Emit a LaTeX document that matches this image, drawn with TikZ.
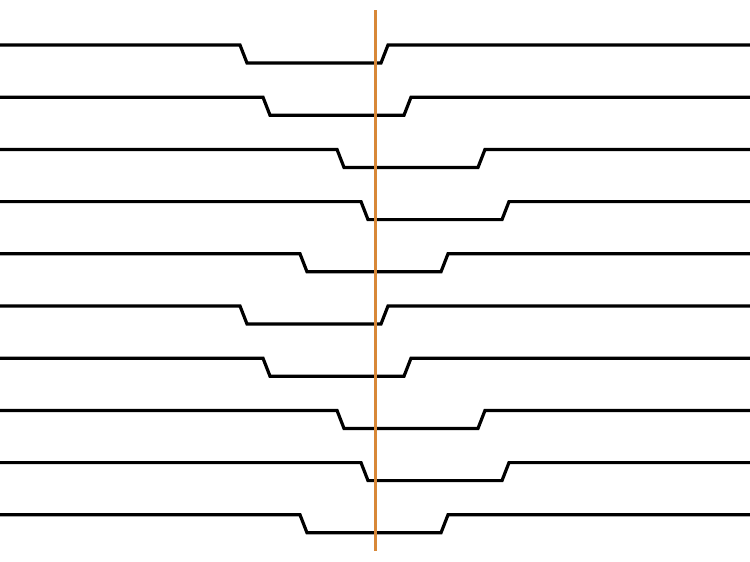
\documentclass[tikz,border=0pt]{standalone}
\definecolor{markorange}{RGB}{216,136,56}
\begin{document}
\begin{tikzpicture}[x=1pt,y=-1pt,
  pulse/.style={line width=3.2pt,black,line join=miter},
  marker/.style={line width=3pt,markorange}]
\useasboundingbox (0,0) rectangle (750,562);
\foreach \x [count=\i from 0] in {240,263,337,361,300,240,263,337,361,300}{
  \pgfmathsetmacro{\yh}{45+52.2*\i}
  \pgfmathsetmacro{\yl}{\yh+18}
  \draw[pulse] (-5,\yh) -- (\x,\yh) -- (\x+7,\yl) -- (\x+141,\yl) -- (\x+148,\yh) -- (755,\yh);
}
\coordinate (mtop) at (375,10);
\coordinate (mbot) at (375,551);
\draw[marker] (mtop) -- (mbot);
\end{tikzpicture}
\end{document}
